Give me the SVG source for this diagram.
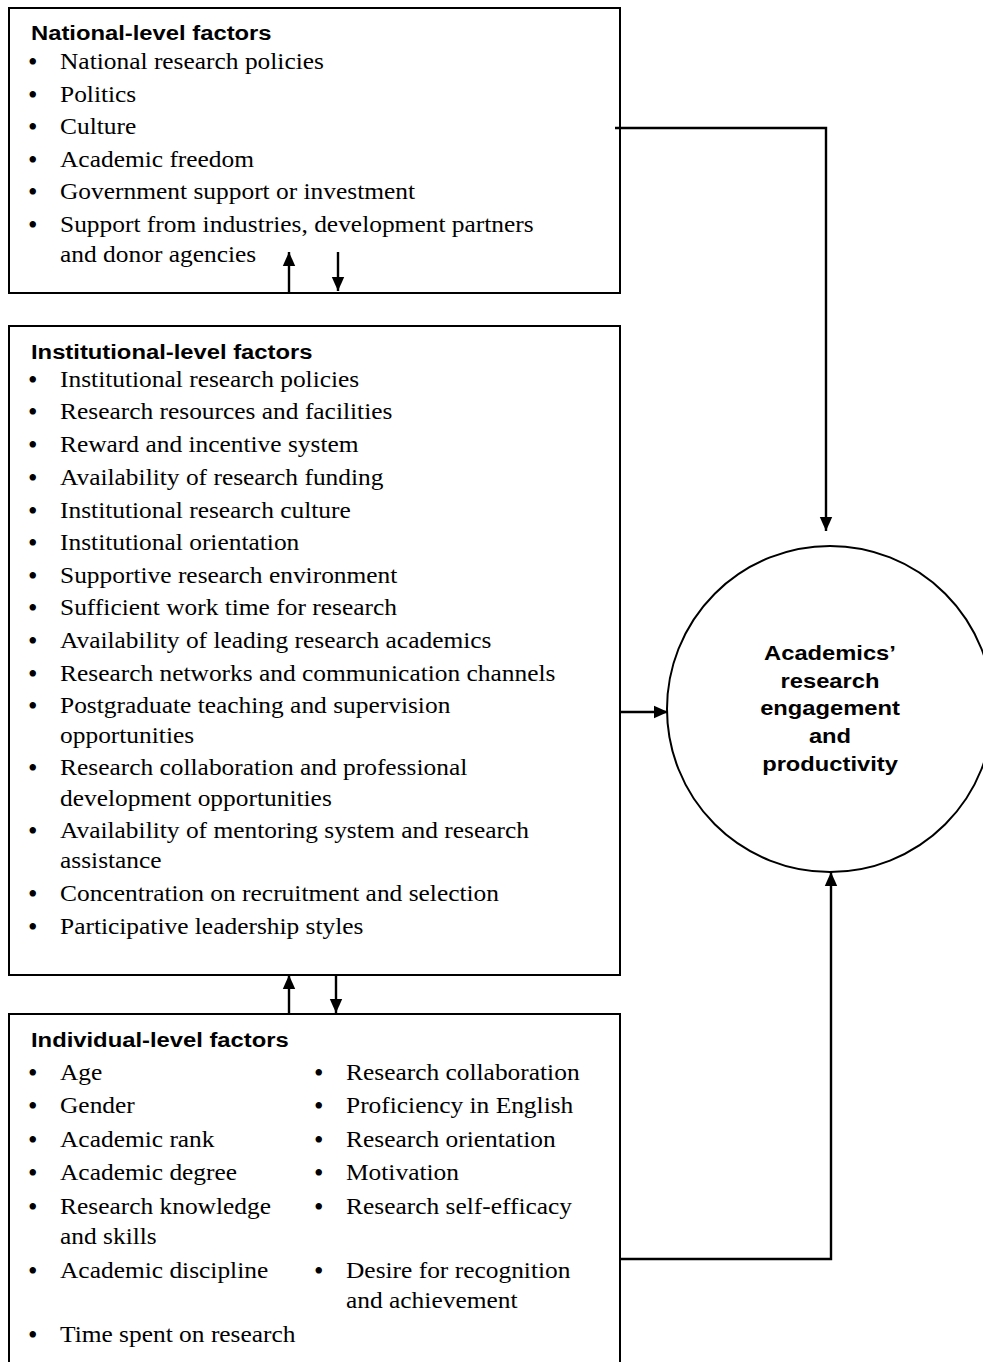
<svg xmlns="http://www.w3.org/2000/svg" width="983" height="1362" viewBox="0 0 983 1362">
<style>
.box{fill:#fff;stroke:#000;stroke-width:2}
.head{font-family:"Liberation Sans",Arial,sans-serif;font-weight:bold;font-size:20px;fill:#000}
.item{font-family:"Liberation Serif","Times New Roman",serif;font-size:22.5px;fill:#000}
.bul{font-family:"Liberation Serif","Times New Roman",serif;font-size:27px;fill:#000}
.ctext{font-family:"Liberation Sans",Arial,sans-serif;font-weight:bold;font-size:21px;fill:#000;text-anchor:middle}
.conn{fill:none;stroke:#000;stroke-width:2.4}
</style>
<defs>
<marker id="arr" markerUnits="userSpaceOnUse" markerWidth="14" markerHeight="14" viewBox="0 0 14 14" refX="14" refY="7" orient="auto">
<path d="M0,0.8 L14,7 L0,13.2 Z" fill="#000"/>
</marker>
</defs>

<rect width="983" height="1362" fill="#fff"/>

<g id="national">
<rect class="box" x="9" y="8" width="611" height="285"/>
<g transform="translate(31,0) scale(1.19,1)"><text class="head" x="0" y="40">National-level factors</text></g>
<g>
<text class="bul" x="28" y="71">•</text>
<text class="bul" x="28" y="104">•</text>
<text class="bul" x="28" y="136">•</text>
<text class="bul" x="28" y="169">•</text>
<text class="bul" x="28" y="201">•</text>
<text class="bul" x="28" y="234">•</text>
</g>
<g transform="translate(60,0) scale(1.13,1)">
<text class="item" x="0" y="69">National research policies</text>
<text class="item" x="0" y="102">Politics</text>
<text class="item" x="0" y="134">Culture</text>
<text class="item" x="0" y="167">Academic freedom</text>
<text class="item" x="0" y="199">Government support or investment</text>
<text class="item" x="0" y="232">Support from industries, development partners</text>
<text class="item" x="0" y="262">and donor agencies</text>
</g>
</g>

<g id="institutional">
<rect class="box" x="9" y="326" width="611" height="649"/>
<g transform="translate(31,0) scale(1.19,1)"><text class="head" x="0" y="359">Institutional-level factors</text></g>
<g>
<text class="bul" x="28" y="389">•</text>
<text class="bul" x="28" y="421">•</text>
<text class="bul" x="28" y="454">•</text>
<text class="bul" x="28" y="487">•</text>
<text class="bul" x="28" y="520">•</text>
<text class="bul" x="28" y="552">•</text>
<text class="bul" x="28" y="585">•</text>
<text class="bul" x="28" y="617">•</text>
<text class="bul" x="28" y="650">•</text>
<text class="bul" x="28" y="683">•</text>
<text class="bul" x="28" y="715">•</text>
<text class="bul" x="28" y="777">•</text>
<text class="bul" x="28" y="840">•</text>
<text class="bul" x="28" y="903">•</text>
<text class="bul" x="28" y="936">•</text>
</g>
<g transform="translate(60,0) scale(1.13,1)">
<text class="item" x="0" y="387">Institutional research policies</text>
<text class="item" x="0" y="419">Research resources and facilities</text>
<text class="item" x="0" y="452">Reward and incentive system</text>
<text class="item" x="0" y="485">Availability of research funding</text>
<text class="item" x="0" y="518">Institutional research culture</text>
<text class="item" x="0" y="550">Institutional orientation</text>
<text class="item" x="0" y="583">Supportive research environment</text>
<text class="item" x="0" y="615">Sufficient work time for research</text>
<text class="item" x="0" y="648">Availability of leading research academics</text>
<text class="item" x="0" y="681">Research networks and communication channels</text>
<text class="item" x="0" y="713">Postgraduate teaching and supervision</text>
<text class="item" x="0" y="743">opportunities</text>
<text class="item" x="0" y="775">Research collaboration and professional</text>
<text class="item" x="0" y="806">development opportunities</text>
<text class="item" x="0" y="838">Availability of mentoring system and research</text>
<text class="item" x="0" y="868">assistance</text>
<text class="item" x="0" y="901">Concentration on recruitment and selection</text>
<text class="item" x="0" y="934">Participative leadership styles</text>
</g>
</g>

<g id="individual">
<rect class="box" x="9" y="1014" width="611" height="360"/>
<g transform="translate(31,0) scale(1.19,1)"><text class="head" x="0" y="1047">Individual-level factors</text></g>
<g>
<text class="bul" x="28" y="1082">•</text>
<text class="bul" x="28" y="1115">•</text>
<text class="bul" x="28" y="1149">•</text>
<text class="bul" x="28" y="1182">•</text>
<text class="bul" x="28" y="1216">•</text>
<text class="bul" x="28" y="1280">•</text>
<text class="bul" x="28" y="1344">•</text>
<text class="bul" x="314" y="1082">•</text>
<text class="bul" x="314" y="1115">•</text>
<text class="bul" x="314" y="1149">•</text>
<text class="bul" x="314" y="1182">•</text>
<text class="bul" x="314" y="1216">•</text>
<text class="bul" x="314" y="1280">•</text>
</g>
<g transform="translate(60,0) scale(1.13,1)">
<text class="item" x="0" y="1080">Age</text>
<text class="item" x="0" y="1113">Gender</text>
<text class="item" x="0" y="1147">Academic rank</text>
<text class="item" x="0" y="1180">Academic degree</text>
<text class="item" x="0" y="1214">Research knowledge</text>
<text class="item" x="0" y="1244">and skills</text>
<text class="item" x="0" y="1278">Academic discipline</text>
<text class="item" x="0" y="1342">Time spent on research</text>
</g>
<g transform="translate(346,0) scale(1.13,1)">
<text class="item" x="0" y="1080">Research collaboration</text>
<text class="item" x="0" y="1113">Proficiency in English</text>
<text class="item" x="0" y="1147">Research orientation</text>
<text class="item" x="0" y="1180">Motivation</text>
<text class="item" x="0" y="1214">Research self-efficacy</text>
<text class="item" x="0" y="1278">Desire for recognition</text>
<text class="item" x="0" y="1308">and achievement</text>
</g>
</g>

<g id="outcome">
<circle cx="830" cy="709" r="163" fill="#fff" stroke="#000" stroke-width="2"/>
<g transform="translate(830,0) scale(1.13,1)">
<text class="ctext" x="0" y="660">Academics’</text>
<text class="ctext" x="0" y="688">research</text>
<text class="ctext" x="0" y="715">engagement</text>
<text class="ctext" x="0" y="743">and</text>
<text class="ctext" x="0" y="771">productivity</text>
</g>
</g>

<g id="connectors">
<path class="conn" d="M615,128 H826 V531" marker-end="url(#arr)"/>
<path class="conn" d="M620,712 H668" marker-end="url(#arr)"/>
<path class="conn" d="M620,1259 H831 V872" marker-end="url(#arr)"/>
<path class="conn" d="M289,293 V252" marker-end="url(#arr)"/>
<path class="conn" d="M338,252 V291" marker-end="url(#arr)"/>
<path class="conn" d="M289,1014 V975" marker-end="url(#arr)"/>
<path class="conn" d="M336,975 V1013" marker-end="url(#arr)"/>
</g>
</svg>
